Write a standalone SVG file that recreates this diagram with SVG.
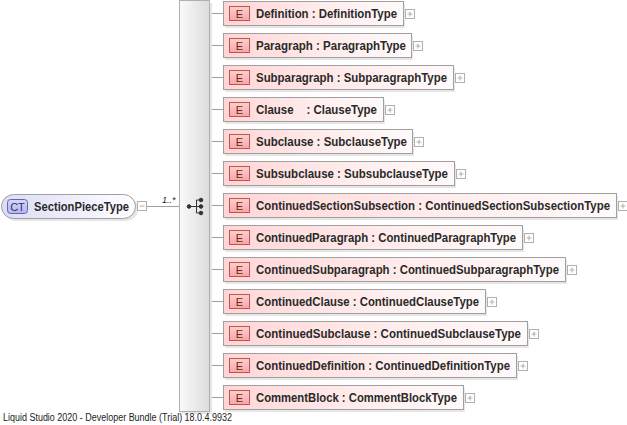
<svg xmlns="http://www.w3.org/2000/svg" width="627" height="425" viewBox="0 0 627 425">
<defs>
<linearGradient id="gEh" x1="0" y1="0" x2="1" y2="0"><stop offset="0" stop-color="#ffd6d6"/><stop offset="0.6" stop-color="#ffeeee"/><stop offset="1" stop-color="#fffafa"/></linearGradient>
<linearGradient id="gBadge" x1="0" y1="0" x2="0" y2="1"><stop offset="0" stop-color="#fbd0d0"/><stop offset="1" stop-color="#f2a8a8"/></linearGradient>
<linearGradient id="gBar" x1="0" y1="0" x2="1" y2="0"><stop offset="0" stop-color="#fafafa"/><stop offset="1" stop-color="#dcdcdc"/></linearGradient>
<linearGradient id="gCT" x1="0" y1="0" x2="1" y2="0"><stop offset="0" stop-color="#dcdcf6"/><stop offset="0.6" stop-color="#f0f0fc"/><stop offset="1" stop-color="#ffffff"/></linearGradient>
<linearGradient id="gCTb" x1="0" y1="0" x2="0" y2="1"><stop offset="0" stop-color="#d8d8f8"/><stop offset="1" stop-color="#b4b4ec"/></linearGradient>
<g id="plus"><rect x="0" y="0" width="9" height="9" fill="#fff" stroke="#b0b0b0"/><path d="M2 4.5H7M4.5 2V7" stroke="#b0b0b0"/></g>
</defs>
<style>
.box{fill:url(#gEh);stroke:#a0a0a0;stroke-width:1}
.shadow{fill:#e6e6e6}
.badge{fill:url(#gBadge);stroke:#c85050;stroke-width:1}
.bt{font-family:"Liberation Sans",Arial,sans-serif;font-size:11px;fill:#7a2020}
.lbl{font-family:"Liberation Sans",Arial,sans-serif;font-size:12px;font-weight:bold;fill:#2a2a2a;white-space:pre}
.conn{stroke:#a0a0a0;stroke-width:1;fill:none}
</style>
<rect width="627" height="425" fill="#fff"/>
<g id="connectors">
<path class="conn" d="M147 206.5H179"/>
<path class="conn" d="M209 13.5H223M209 45.5H223M209 77.5H223M209 109.5H223M209 141.5H223M209 173.5H223M209 205.5H223M209 237.5H223M209 269.5H223M209 301.5H223M209 333.5H223M209 365.5H223M209 397.5H223"/>
<text x="162" y="203" font-family="Liberation Sans,Arial,sans-serif" font-size="9" font-style="italic" fill="#222">1..*</text>
</g>
<g id="sequence">
<rect x="182" y="3" width="30" height="411" class="shadow"/>
<rect x="179.5" y="0.5" width="30" height="411" fill="url(#gBar)" stroke="#b0b0b0"/>
<g fill="#333" stroke="#333">
<circle cx="189" cy="206.5" r="1.8"/>
<path d="M189 206.5H196M196.5 200V213M196.5 200H200M196.5 206.5H200M196.5 213H200" stroke-width="1" fill="none"/>
<circle cx="201" cy="200" r="1.8"/>
<circle cx="201" cy="206.5" r="1.8"/>
<circle cx="201" cy="213" r="1.8"/>
</g>
</g>
<g id="SectionPieceType">
<rect x="4" y="197" width="134" height="24" rx="12" class="shadow"/>
<rect x="1.5" y="194.5" width="134" height="24" rx="12" fill="url(#gCT)" stroke="#a0a0a0"/>
<rect x="7.5" y="199.5" width="20" height="14" rx="3" fill="url(#gCTb)" stroke="#6464b4"/>
<text x="17.5" y="210.5" text-anchor="middle" font-family="Liberation Sans,Arial,sans-serif" font-size="11" fill="#303070">CT</text>
<text x="34" y="211" class="lbl" textLength="95" lengthAdjust="spacingAndGlyphs">SectionPieceType</text>
<rect x="137.5" y="201.5" width="9" height="9" fill="#fff" stroke="#b0b0b0"/>
<path d="M139.5 206H144.5" stroke="#b0b0b0"/>
</g>
<g id="Definition"><rect x="225" y="4" width="180" height="24" class="shadow"/><rect x="223.5" y="1.5" width="180" height="24" class="box"/><rect x="229.5" y="6.5" width="20" height="14" class="badge"/><text x="239.5" y="17.5" text-anchor="middle" class="bt">E</text><text x="256" y="18" class="lbl" textLength="141" lengthAdjust="spacingAndGlyphs">Definition : DefinitionType</text><use href="#plus" x="405.5" y="9.5"/></g>
<g id="Paragraph"><rect x="225" y="36" width="188" height="24" class="shadow"/><rect x="223.5" y="33.5" width="188" height="24" class="box"/><rect x="229.5" y="38.5" width="20" height="14" class="badge"/><text x="239.5" y="49.5" text-anchor="middle" class="bt">E</text><text x="256" y="50" class="lbl" textLength="150" lengthAdjust="spacingAndGlyphs">Paragraph : ParagraphType</text><use href="#plus" x="413.5" y="41.5"/></g>
<g id="Subparagraph"><rect x="225" y="68" width="230" height="24" class="shadow"/><rect x="223.5" y="65.5" width="230" height="24" class="box"/><rect x="229.5" y="70.5" width="20" height="14" class="badge"/><text x="239.5" y="81.5" text-anchor="middle" class="bt">E</text><text x="256" y="82" class="lbl" textLength="191" lengthAdjust="spacingAndGlyphs">Subparagraph : SubparagraphType</text><use href="#plus" x="455.5" y="73.5"/></g>
<g id="Clause"><rect x="225" y="100" width="160" height="24" class="shadow"/><rect x="223.5" y="97.5" width="160" height="24" class="box"/><rect x="229.5" y="102.5" width="20" height="14" class="badge"/><text x="239.5" y="113.5" text-anchor="middle" class="bt">E</text><text x="256" y="114" class="lbl" textLength="121" lengthAdjust="spacingAndGlyphs">Clause    : ClauseType</text><use href="#plus" x="385.5" y="105.5"/></g>
<g id="Subclause"><rect x="225" y="132" width="189" height="24" class="shadow"/><rect x="223.5" y="129.5" width="189" height="24" class="box"/><rect x="229.5" y="134.5" width="20" height="14" class="badge"/><text x="239.5" y="145.5" text-anchor="middle" class="bt">E</text><text x="256" y="146" class="lbl" textLength="151" lengthAdjust="spacingAndGlyphs">Subclause : SubclauseType</text><use href="#plus" x="414.5" y="137.5"/></g>
<g id="Subsubclause"><rect x="225" y="164" width="231" height="24" class="shadow"/><rect x="223.5" y="161.5" width="231" height="24" class="box"/><rect x="229.5" y="166.5" width="20" height="14" class="badge"/><text x="239.5" y="177.5" text-anchor="middle" class="bt">E</text><text x="256" y="178" class="lbl" textLength="192" lengthAdjust="spacingAndGlyphs">Subsubclause : SubsubclauseType</text><use href="#plus" x="456.5" y="169.5"/></g>
<g id="ContinuedSectionSubsection"><rect x="225" y="196" width="393" height="24" class="shadow"/><rect x="223.5" y="193.5" width="393" height="24" class="box"/><rect x="229.5" y="198.5" width="20" height="14" class="badge"/><text x="239.5" y="209.5" text-anchor="middle" class="bt">E</text><text x="256" y="210" class="lbl" textLength="354" lengthAdjust="spacingAndGlyphs">ContinuedSectionSubsection : ContinuedSectionSubsectionType</text><use href="#plus" x="618.5" y="201.5"/></g>
<g id="ContinuedParagraph"><rect x="225" y="228" width="299" height="24" class="shadow"/><rect x="223.5" y="225.5" width="299" height="24" class="box"/><rect x="229.5" y="230.5" width="20" height="14" class="badge"/><text x="239.5" y="241.5" text-anchor="middle" class="bt">E</text><text x="256" y="242" class="lbl" textLength="260" lengthAdjust="spacingAndGlyphs">ContinuedParagraph : ContinuedParagraphType</text><use href="#plus" x="524.5" y="233.5"/></g>
<g id="ContinuedSubparagraph"><rect x="225" y="260" width="342" height="24" class="shadow"/><rect x="223.5" y="257.5" width="342" height="24" class="box"/><rect x="229.5" y="262.5" width="20" height="14" class="badge"/><text x="239.5" y="273.5" text-anchor="middle" class="bt">E</text><text x="256" y="274" class="lbl" textLength="303" lengthAdjust="spacingAndGlyphs">ContinuedSubparagraph : ContinuedSubparagraphType</text><use href="#plus" x="567.5" y="265.5"/></g>
<g id="ContinuedClause"><rect x="225" y="292" width="262" height="24" class="shadow"/><rect x="223.5" y="289.5" width="262" height="24" class="box"/><rect x="229.5" y="294.5" width="20" height="14" class="badge"/><text x="239.5" y="305.5" text-anchor="middle" class="bt">E</text><text x="256" y="306" class="lbl" textLength="223" lengthAdjust="spacingAndGlyphs">ContinuedClause : ContinuedClauseType</text><use href="#plus" x="487.5" y="297.5"/></g>
<g id="ContinuedSubclause"><rect x="225" y="324" width="304" height="24" class="shadow"/><rect x="223.5" y="321.5" width="304" height="24" class="box"/><rect x="229.5" y="326.5" width="20" height="14" class="badge"/><text x="239.5" y="337.5" text-anchor="middle" class="bt">E</text><text x="256" y="338" class="lbl" textLength="265" lengthAdjust="spacingAndGlyphs">ContinuedSubclause : ContinuedSubclauseType</text><use href="#plus" x="529.5" y="329.5"/></g>
<g id="ContinuedDefinition"><rect x="225" y="356" width="293" height="24" class="shadow"/><rect x="223.5" y="353.5" width="293" height="24" class="box"/><rect x="229.5" y="358.5" width="20" height="14" class="badge"/><text x="239.5" y="369.5" text-anchor="middle" class="bt">E</text><text x="256" y="370" class="lbl" textLength="254" lengthAdjust="spacingAndGlyphs">ContinuedDefinition : ContinuedDefinitionType</text><use href="#plus" x="518.5" y="361.5"/></g>
<g id="CommentBlock"><rect x="225" y="388" width="240" height="24" class="shadow"/><rect x="223.5" y="385.5" width="240" height="24" class="box"/><rect x="229.5" y="390.5" width="20" height="14" class="badge"/><text x="239.5" y="401.5" text-anchor="middle" class="bt">E</text><text x="256" y="402" class="lbl" textLength="201" lengthAdjust="spacingAndGlyphs">CommentBlock : CommentBlockType</text><use href="#plus" x="465.5" y="393.5"/></g>
<text x="3" y="421" font-family="Liberation Sans,Arial,sans-serif" font-size="10" fill="#222" textLength="229" lengthAdjust="spacingAndGlyphs">Liquid Studio 2020 - Developer Bundle (Trial) 18.0.4.9932</text>
</svg>
